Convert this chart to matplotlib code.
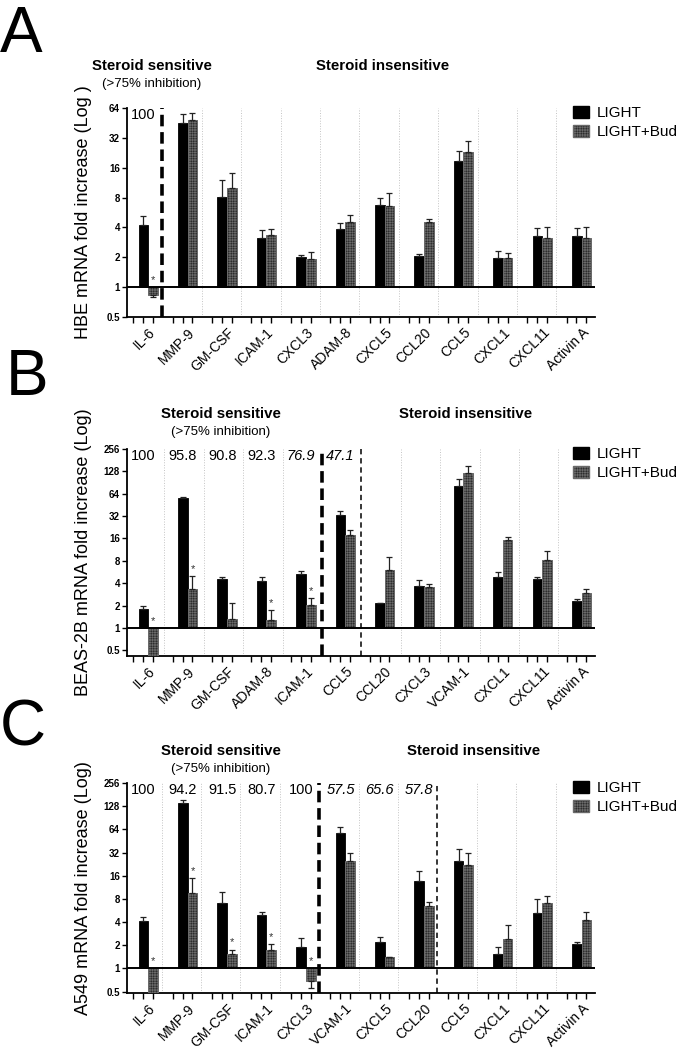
import numpy as np
import matplotlib.pyplot as plt
from matplotlib.patches import Patch

plt.rcParams['font.family'] = ['Liberation Sans', 'DejaVu Sans']
plt.rcParams['hatch.linewidth'] = 0.4
plt.rcParams['hatch.color'] = '#6a6a6a'

# ---- panel A : HBE ----
genes_a = ['IL-6', 'MMP-9', 'GM-CSF', 'ICAM-1', 'CXCL3', 'ADAM-8', 'CXCL5', 'CCL20',
           'CCL5', 'CXCL1', 'CXCL11', 'Activin A']
light_a = [4.2, 45, 8.1, 3.1, 2.0, 3.85, 6.7, 2.07, 18.5, 1.95, 3.3, 3.3]
light_a_top = [5.2, 56, 12.1, 3.8, 2.1, 4.4, 8.0, 2.15, 23.8, 2.3, 3.94, 3.94]
bud_a = [0.84, 48, 10.1, 3.37, 1.93, 4.56, 6.6, 4.5, 23.1, 1.98, 3.15, 3.15]
bud_a_top = [0.79, 57, 14.1, 3.88, 2.27, 5.36, 8.9, 4.9, 29.9, 2.2, 4.0, 4.0]
stars_a = ['IL-6']
pct_a = ['100']
pct_a_italic = [False]

# ---- panel B : BEAS-2B ----
genes_b = ['IL-6', 'MMP-9', 'GM-CSF', 'ADAM-8', 'ICAM-1', 'CCL5', 'CCL20', 'CXCL3',
           'VCAM-1', 'CXCL1', 'CXCL11', 'Activin A']
light_b = [1.82, 56, 4.5, 4.3, 5.34, 32.7, 2.2, 3.73, 82, 4.87, 4.5, 2.28]
light_b_top = [1.97, 58.7, 4.9, 4.8, 5.9, 37, 2.2, 4.4, 101, 5.7, 4.87, 2.48]
bud_b = [0.4, 3.36, 1.33, 1.27, 2.04, 18, 6.1, 3.6, 121, 15.3, 8.3, 2.98]
bud_b_top = [0.4, 5.0, 2.14, 1.74, 2.55, 21, 9.1, 3.93, 152, 16.8, 11.0, 3.37]
stars_b = ['IL-6', 'MMP-9', 'ADAM-8', 'ICAM-1']
pct_b = ['100', '95.8', '90.8', '92.3', '76.9', '47.1']
pct_b_italic = [False, False, False, False, True, True]

# ---- panel C : A549 ----
genes_c = ['IL-6', 'MMP-9', 'GM-CSF', 'ICAM-1', 'CXCL3', 'VCAM-1', 'CXCL5', 'CCL20',
           'CCL5', 'CXCL1', 'CXCL11', 'Activin A']
light_c = [4.17, 142, 7.0, 4.93, 1.92, 57, 2.21, 13.8, 25.1, 1.53, 5.3, 2.1]
light_c_top = [4.65, 154, 9.8, 5.45, 2.51, 69, 2.57, 18.3, 35.5, 1.91, 7.9, 2.21]
bud_c = [0.45, 9.5, 1.52, 1.76, 0.69, 25, 1.41, 6.45, 22.3, 2.39, 7.12, 4.2]
bud_c_top = [0.45, 14.8, 1.76, 2.06, 0.55, 31.4, 1.41, 7.27, 31.2, 3.7, 8.77, 5.34]
stars_c = ['IL-6', 'MMP-9', 'GM-CSF', 'ICAM-1', 'CXCL3']
pct_c = ['100', '94.2', '91.5', '80.7', '100', '57.5', '65.6', '57.8']
pct_c_italic = [False, False, False, False, False, True, True, True]

W, H = 684, 1050
fig = plt.figure(figsize=(W / 100, H / 100), dpi=100)

BUD_FACE = '#1e1e1e'
BUD_EDGE = '#6a6a6a'
HATCH = '+' * 10


def px(x, y):
    return x / W, 1 - y / H


def panel(rect, genes, light, light_top, bud, bud_top, stars, pct, pct_it,
          ylab, ymin, ymax, thick_at, thin_at, sep_off, letter, head_y, sens_x, ins_x):
    left, top, right, bottom = rect
    ax = fig.add_axes([left / W, 1 - bottom / H, (right - left) / W, (bottom - top) / H])
    ax.set_yscale('log', base=2)
    n = len(genes)
    x = np.arange(n)
    bw = 0.245
    ax.bar(x - bw / 2, np.array(light) - 1, bottom=1, width=bw, color='black',
           edgecolor='black', lw=0.6, zorder=3)
    ax.bar(x + bw / 2, np.array(bud) - 1, bottom=1, width=bw, color=BUD_FACE,
           edgecolor=BUD_EDGE, hatch=HATCH, lw=0.7, zorder=3)
    for xs, v, t in ((x - bw / 2, light, light_top), (x + bw / 2, bud, bud_top)):
        v = np.array(v); t = np.array(t)
        up = np.clip(t - v, 0, None)
        dn = np.clip(v - t, 0, None)
        ax.errorbar(xs, v, yerr=[dn, up], fmt='none', ecolor='#222222', elinewidth=0.9,
                    capsize=2.2, capthick=0.9, zorder=4)
    for g in stars:
        i = genes.index(g)
        yv = max(bud_top[i], bud[i], 1)
        ax.annotate('*', (x[i] + bw / 2, yv), xytext=(0, 1.5), textcoords='offset points',
                    ha='center', va='bottom', fontsize=8, color='#333333')
    ax.set_xlim(-0.54, 11.34)
    ax.set_ylim(ymin, ymax)
    ax.axhline(1, color='black', lw=1.4, zorder=5)
    for i in range(n - 1):
        xp = i + sep_off
        if thick_at is not None and i == thick_at:
            ax.axvline(xp, color='black', lw=2.6, ls=(0, (3.2, 1.6)), zorder=6)
        elif thin_at is not None and i == thin_at:
            ax.axvline(xp, color='black', lw=1.1, ls=(0, (3.5, 2.5)), zorder=6)
        else:
            ax.axvline(xp, color='#c4c4c4', lw=0.7, ls=':', zorder=1)
    for i, (s, it) in enumerate(zip(pct, pct_it)):
        ax.text(i - 0.12, 0.965, s, transform=ax.get_xaxis_transform(), ha='center',
                va='center', fontsize=10.5, style='italic' if it else 'normal')
    ticks = sorted([2.0 ** k for k in range(int(np.log2(ymax)) + 1)] + [0.5])
    ax.set_yticks(ticks)
    ax.set_yticklabels([('%g' % t) for t in ticks], fontsize=7, fontweight='bold',
                       family=['Liberation Sans Narrow', 'Liberation Sans'])
    ax.yaxis.set_minor_locator(plt.NullLocator())
    ax.set_xticks(x)
    ax.set_xticklabels(genes, rotation=45, ha='right', va='top', rotation_mode='anchor',
                       fontsize=10)
    ax.set_xticks(np.concatenate([x - 0.38, x - 0.13, x + 0.12]), minor=True)
    ax.tick_params(axis='x', which='major', length=0, pad=6)
    ax.tick_params(axis='x', which='minor', length=4, width=1, direction='out')
    ax.tick_params(axis='y', length=3.5, width=1, pad=1.5)
    for sp in ('top', 'right'):
        ax.spines[sp].set_visible(False)
    for sp in ('left', 'bottom'):
        ax.spines[sp].set_linewidth(1.3)
    ax.set_ylabel(ylab, fontsize=13)
    ax.yaxis.set_label_coords((92 - left) / (right - left), 0.5)
    ax.legend(handles=[Patch(facecolor='black', edgecolor='black', label='LIGHT'),
                       Patch(facecolor=BUD_FACE, edgecolor=BUD_EDGE, hatch=HATCH,
                             label='LIGHT+Bud')],
              loc='upper left', bbox_to_anchor=(0.952, 1.01), frameon=False,
              fontsize=11, borderpad=0, handlelength=1.05, handleheight=0.85,
              handletextpad=0.55, labelspacing=0.3, borderaxespad=0)
    fig.text(*px(letter[0], letter[1]), letter[2], fontsize=46, ha='left', va='baseline')
    fig.text(*px(sens_x, head_y), 'Steroid sensitive', fontsize=10.8, fontweight='bold',
             ha='center', va='center')
    fig.text(*px(sens_x, head_y + 18), '(>75% inhibition)', fontsize=9.5,
             ha='center', va='center')
    fig.text(*px(ins_x, head_y), 'Steroid insensitive', fontsize=10.8, fontweight='bold',
             ha='center', va='center')
    return ax


axA = panel((127, 108, 595, 317), genes_a, light_a, light_a_top, bud_a, bud_a_top,
            stars_a, pct_a, pct_a_italic, 'HBE mRNA fold increase (Log )', 0.5, 64,
            0, None, 0.36, (0, 52, 'A'), 66, 152, 383)
axB = panel((127, 449, 595, 656), genes_b, light_b, light_b_top, bud_b, bud_b_top,
            stars_b, pct_b, pct_b_italic, 'BEAS-2B mRNA fold increase (Log)', 0.42, 256,
            4, 5, 0.41, (6, 395, 'B'), 414, 221, 466)
axC = panel((127, 783, 595, 993), genes_c, light_c, light_c_top, bud_c, bud_c_top,
            stars_c, pct_c, pct_c_italic, 'A549 mRNA fold increase (Log)', 0.48, 256,
            4, 7, 0.34, (0, 746, 'C'), 751, 220.5, 474)

fig.savefig('out.png', dpi=100)
